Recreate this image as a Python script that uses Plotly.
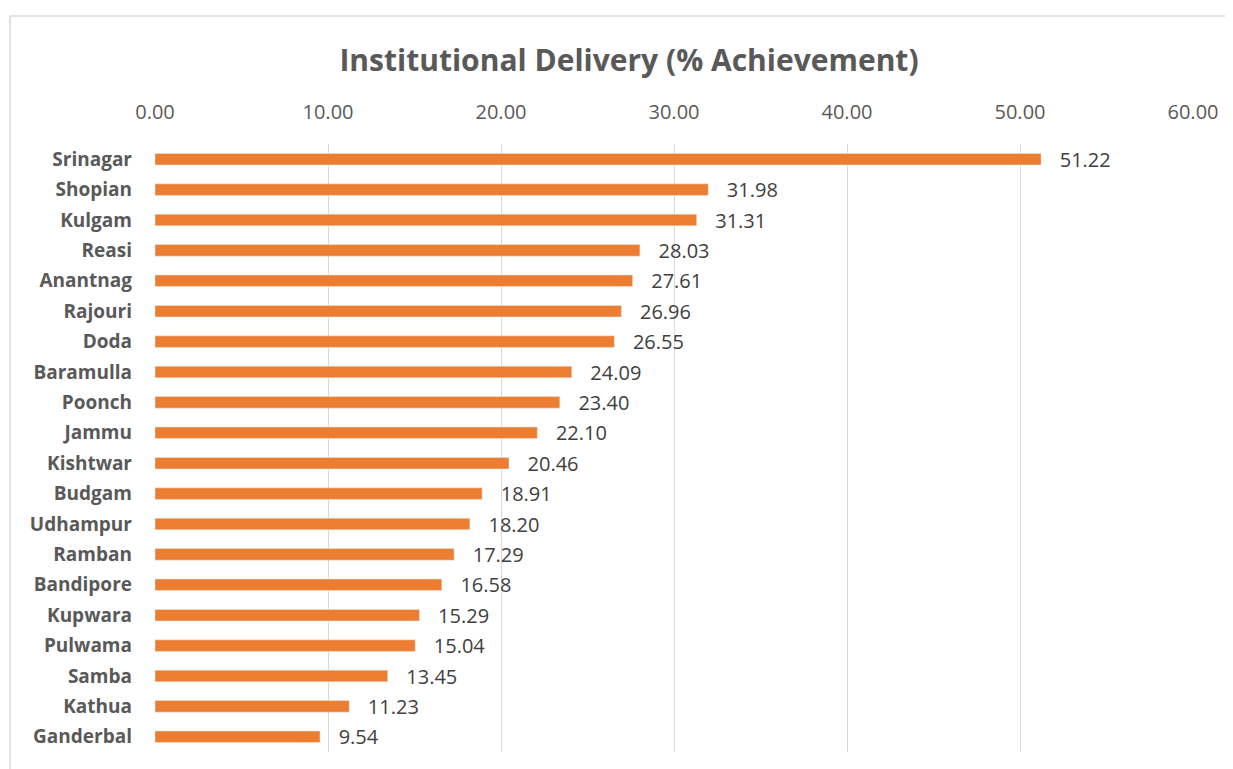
import plotly.graph_objects as go

districts = ["Srinagar", "Shopian", "Kulgam", "Reasi", "Anantnag", "Rajouri", "Doda",
             "Baramulla", "Poonch", "Jammu", "Kishtwar", "Budgam", "Udhampur", "Ramban",
             "Bandipore", "Kupwara", "Pulwama", "Samba", "Kathua", "Ganderbal"]
values = [51.22, 31.98, 31.31, 28.03, 27.61, 26.96, 26.55, 24.09, 23.40, 22.10,
          20.46, 18.91, 18.20, 17.29, 16.58, 15.29, 15.04, 13.45, 11.23, 9.54]
tick_vals = [0, 10, 20, 30, 40, 50, 60]
tick_text = ["0.00", "10.00", "20.00", "30.00", "40.00", "50.00", "60.00"]

OFF = 8  # page body margin
W, H = 1233 - OFF, 769 - OFF
L, R, T, B = 155 - OFF, 1193 - OFF, 144 - OFF, 752 - OFF

fig = go.Figure(go.Bar(
    x=values, y=districts, orientation="h",
    marker=dict(color="#ED7D31"),
    width=0.38,
    text=[f"{v:.2f}" for v in values],
    texttemplate="   %{text}",
    textposition="outside",
    constraintext="none",
    textfont=dict(family="Open Sans, sans-serif", size=20, color="#404040"),
    cliponaxis=False,
))

fig.update_layout(
    width=W, height=H,
    margin=dict(l=L, r=W - R, t=T, b=H - B),
    paper_bgcolor="white", plot_bgcolor="white",
    title=dict(text="<b>Institutional Delivery (% Achievement)</b>",
               x=(629 - OFF) / W, xanchor="center", y=1 - (60 - OFF) / H, yanchor="middle",
               font=dict(family="Open Sans, sans-serif", size=30, color="#595959")),
    xaxis=dict(side="top", range=[0, 60], tickvals=tick_vals, ticktext=tick_text,
               showgrid=True, gridcolor="#d9d9d9", gridwidth=1, zeroline=False,
               showline=False, ticks="", ticklabelstandoff=20,
               tickfont=dict(family="Open Sans, sans-serif", size=20, color="#595959")),
    yaxis=dict(autorange="reversed", showgrid=False, zeroline=False, ticks="",
               ticklabelstandoff=22,
               tickfont=dict(family="Open Sans, sans-serif", size=19, color="#595959", weight="bold")),
    showlegend=False,
    bargap=0.6,
)

pw, ph = R - L, B - T
def px_x(x):
    return (x - 155) / pw
def px_y(y):
    return (752 - y) / ph

fig.add_shape(type="line", xref="paper", yref="paper",
              x0=px_x(10), x1=px_x(1240), y0=px_y(16), y1=px_y(16),
              line=dict(color="#d9d9d9", width=1.5), layer="below")
fig.add_shape(type="line", xref="paper", yref="paper",
              x0=px_x(10), x1=px_x(10), y0=px_y(16), y1=px_y(775),
              line=dict(color="#d9d9d9", width=1.5), layer="below")

fig.write_html("out.html")
